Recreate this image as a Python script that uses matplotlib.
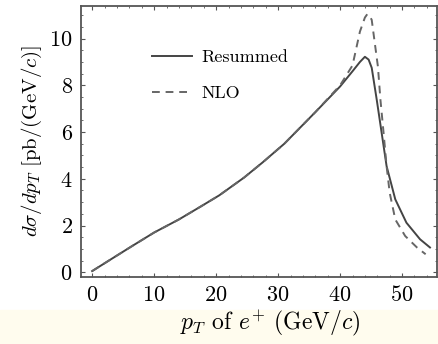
import numpy as np
import matplotlib
matplotlib.use('Agg')
import matplotlib.pyplot as plt
from matplotlib.patches import Rectangle
from matplotlib.ticker import MultipleLocator

plt.rcParams['font.family'] = 'serif'
plt.rcParams['font.serif'] = ['cmr10']
plt.rcParams['mathtext.fontset'] = 'cm'
plt.rcParams['axes.formatter.use_mathtext'] = True

# values
pt_res = [0, 3, 6.5, 10, 14, 17.5, 20.5, 24.5, 27.5, 31, 36, 40, 42, 43.2, 44,
          44.6, 45.1, 45.9, 46.7, 47.5, 48.9, 50.7, 52.9, 54.5]
res = [0.05, 0.55, 1.13, 1.70, 2.26, 2.81, 3.29, 4.05, 4.7, 5.5, 6.85, 7.95,
       8.6, 9.0, 9.22, 9.1, 8.75, 7.4, 5.97, 4.54, 3.12, 2.12, 1.41, 1.06]

pt_nlo = [0, 3, 6.5, 10, 14, 17.5, 20.5, 24.5, 27.5, 31, 36, 40, 42, 43.2, 44,
          44.4, 44.8, 45.1, 45.6, 46.1, 46.5, 47.0, 47.5, 48.0, 48.9, 50.5,
          52.4, 53.8]
nlo = [0.05, 0.55, 1.13, 1.70, 2.26, 2.81, 3.29, 4.05, 4.7, 5.5, 6.85, 8.0,
       8.85, 10.3, 10.9, 11.05, 10.95, 10.8, 9.8, 8.8, 7.4, 6.0, 4.54, 3.4,
       2.26, 1.55, 1.06, 0.77]

fig = plt.figure(figsize=(4.39, 3.44), dpi=100)
fig.patches.append(Rectangle((0, 0), 1, 0.1, transform=fig.transFigure,
                             color='#fffcee', zorder=-1))
ax = fig.add_axes([0.1845, 0.195, 0.8105, 0.788])

ax.plot(pt_res, res, color='#444444', lw=1.4, label='Resummed')
ax.plot(pt_nlo, nlo, color='#666666', lw=1.4, ls=(0, (4, 3)), label='NLO')

ax.set_xlim(-1.8, 55.6)
ax.set_ylim(-0.2, 11.4)
ax.set_xticks([0, 10, 20, 30, 40, 50])
ax.set_yticks([0, 2, 4, 6, 8, 10])
ax.xaxis.set_minor_locator(MultipleLocator(2))
ax.yaxis.set_minor_locator(MultipleLocator(0.5))
ax.tick_params(which='both', direction='in', top=True, right=True,
               color='#555555', labelsize=16, pad=6)
ax.tick_params(which='major', length=3)
ax.tick_params(which='minor', length=1.5)
for s in ax.spines.values():
    s.set_color('#555555')
    s.set_linewidth(1.3)

ax.set_xlabel(r'$p_T$ of $e^{+}$ $(\mathrm{GeV}/c)$', fontsize=17)
ax.xaxis.set_label_coords(0.53, -0.115)
ax.set_ylabel(r'$d\sigma/dp_T\ [\mathrm{pb}/(\mathrm{GeV}/c)]$', fontsize=15,
              labelpad=4)

ax.legend(loc='upper left', bbox_to_anchor=(0.2, 0.84), frameon=False,
          fontsize=13, handlelength=2.2, labelspacing=1.15, borderpad=0,
          borderaxespad=0, handletextpad=0.55)

fig.savefig('out.png', dpi=100)
